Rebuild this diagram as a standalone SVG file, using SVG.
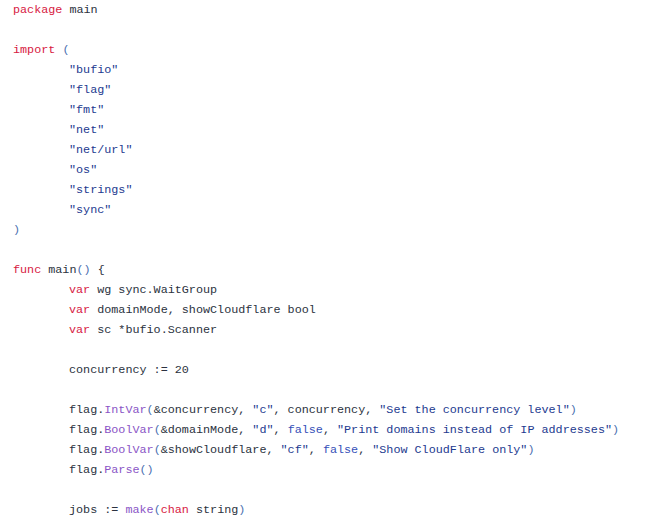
<svg xmlns="http://www.w3.org/2000/svg" width="663" height="529" viewBox="0 0 663 529">
<style>
text{font-family:"Liberation Mono","DejaVu Sans Mono",monospace;font-size:11.75px;fill:#2b3240;white-space:pre}
.k{fill:#d7193f}.s{fill:#1d3a8f}.p{fill:#4a6fb0}.f{fill:#8a55c6}.b{fill:#3550b8}
</style>
<rect width="663" height="529" fill="#fff"/>
<text x="13" y="13"><tspan class="k">package</tspan> main</text>
<text x="13" y="53"><tspan class="k">import</tspan> <tspan class="p">(</tspan></text>
<text x="69" y="73" class="s">"bufio"</text>
<text x="69" y="93" class="s">"flag"</text>
<text x="69" y="113" class="s">"fmt"</text>
<text x="69" y="133" class="s">"net"</text>
<text x="69" y="153" class="s">"net/url"</text>
<text x="69" y="173" class="s">"os"</text>
<text x="69" y="193" class="s">"strings"</text>
<text x="69" y="213" class="s">"sync"</text>
<text x="13" y="233" class="p">)</text>
<text x="13" y="273"><tspan class="k">func</tspan> main<tspan class="p">()</tspan> {</text>
<text x="69" y="293"><tspan class="k">var</tspan> wg sync.WaitGroup</text>
<text x="69" y="313"><tspan class="k">var</tspan> domainMode, showCloudflare bool</text>
<text x="69" y="333"><tspan class="k">var</tspan> sc *bufio.Scanner</text>
<text x="69" y="373">concurrency := 20</text>
<text x="69" y="413">flag.<tspan class="f">IntVar</tspan><tspan class="p">(</tspan>&amp;concurrency, <tspan class="s">"c"</tspan>, concurrency, <tspan class="s">"Set the concurrency level"</tspan><tspan class="p">)</tspan></text>
<text x="69" y="433">flag.<tspan class="f">BoolVar</tspan><tspan class="p">(</tspan>&amp;domainMode, <tspan class="s">"d"</tspan>, <tspan class="b">false</tspan>, <tspan class="s">"Print domains instead of IP addresses"</tspan><tspan class="p">)</tspan></text>
<text x="69" y="453">flag.<tspan class="f">BoolVar</tspan><tspan class="p">(</tspan>&amp;showCloudflare, <tspan class="s">"cf"</tspan>, <tspan class="b">false</tspan>, <tspan class="s">"Show CloudFlare only"</tspan><tspan class="p">)</tspan></text>
<text x="69" y="473">flag.<tspan class="f">Parse</tspan><tspan class="p">()</tspan></text>
<text x="69" y="513">jobs := <tspan class="f">make</tspan><tspan class="p">(</tspan><tspan class="k">chan</tspan> string<tspan class="p">)</tspan></text>
</svg>
